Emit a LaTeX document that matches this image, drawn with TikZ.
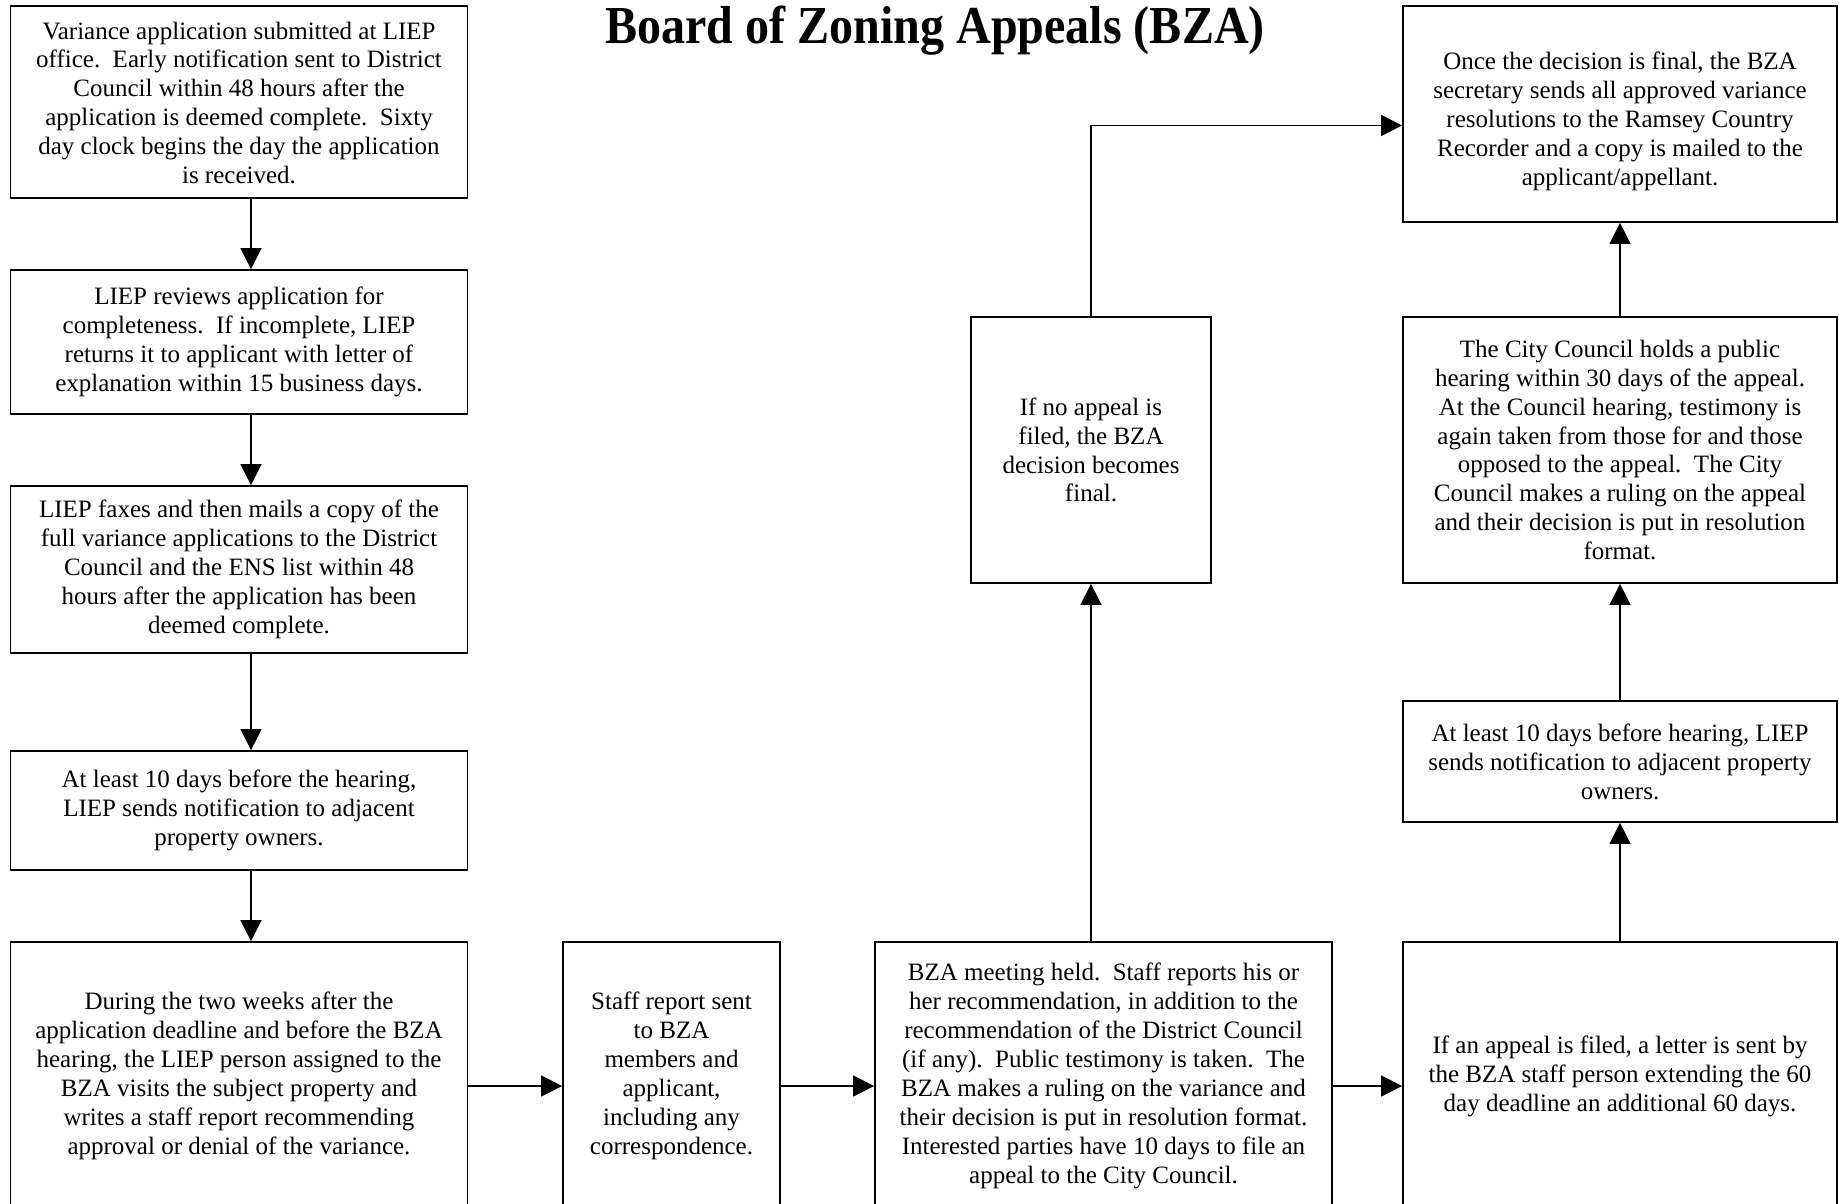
\documentclass[tikz,border=0pt]{standalone}
\usepackage{fontspec}
\setmainfont{Liberation Serif}
\usetikzlibrary{arrows.meta}
\begin{document}
\begin{tikzpicture}[x=0.5pt,y=-0.5pt,
  box/.style={draw=black,line width=0.9pt,inner sep=0pt,align=center,
    font=\fontsize{12.5}{14.45}\selectfont},
  arr/.style={line width=0.8pt,-{Triangle[length=10.5pt,width=10.5pt]}},
  ln/.style={line width=0.8pt}]
\useasboundingbox (0,0) rectangle (1839,1203);
\clip (0,0) rectangle (1839,1203);
\node[font=\bfseries\fontsize{26.7}{30}\selectfont] (title) at (935,31)
  {\scalebox{0.9}[1]{Board of Zoning Appeals (BZA)}};
% left column
\node[box,minimum width=228.5pt,minimum height=96pt] (b1) at (239,102)
  {\raisebox{-1.75pt}[\height][\depth]{\begin{tabular}{@{}c@{}}Variance application submitted at LIEP\\office.\ \ Early notification sent to District\\Council within 48 hours after the\\application is deemed complete.\ \ Sixty\\day clock begins the day the application\\is received.\end{tabular}}};
\node[box,minimum width=228.5pt,minimum height=72pt] (b2) at (239,342)
  {LIEP reviews application for\\completeness.\ \ If incomplete, LIEP\\returns it to applicant with letter of\\explanation within 15 business days.};
\node[box,minimum width=228.5pt,minimum height=83.5pt] (b3) at (239,569.5)
  {LIEP faxes and then mails a copy of the\\full variance applications to the District\\Council and the ENS list within 48\\hours after the application has been\\deemed complete.};
\node[box,minimum width=228.5pt,minimum height=59.5pt] (b4) at (239,810.5)
  {At least 10 days before the hearing,\\LIEP sends notification to adjacent\\property owners.};
\node[box,minimum width=228.5pt,minimum height=134pt] (b5) at (239,1076)
  {During the two weeks after the\\application deadline and before the BZA\\hearing, the LIEP person assigned to the\\BZA visits the subject property and\\writes a staff report recommending\\approval or denial of the variance.};
% bottom row
\node[box,minimum width=108.5pt,minimum height=134pt] (b6) at (671.5,1076)
  {Staff report sent\\to BZA\\members and\\applicant,\\including any\\correspondence.};
\node[box,minimum width=228.5pt,minimum height=134pt] (b7) at (1103.5,1076)
  {BZA meeting held.\ \ Staff reports his or\\her recommendation, in addition to the\\recommendation of the District Council\\(if any).\ \ Public testimony is taken.\ \ The\\BZA makes a ruling on the variance and\\their decision is put in resolution format.\\Interested parties have 10 days to file an\\appeal to the City Council.};
\node[box,minimum width=217pt,minimum height=134pt] (b8) at (1620,1076)
  {If an appeal is filed, a letter is sent by\\the BZA staff person extending the 60\\day deadline an additional 60 days.};
% right column
\node[box,minimum width=217pt,minimum height=60.5pt] (b9) at (1620,761.5)
  {At least 10 days before hearing, LIEP\\sends notification to adjacent property\\owners.};
\node[box,minimum width=217pt,minimum height=133pt] (b10) at (1620,450)
  {The City Council holds a public\\hearing within 30 days of the appeal.\\At the Council hearing, testimony is\\again taken from those for and those\\opposed to the appeal.\ \ The City\\Council makes a ruling on the appeal\\and their decision is put in resolution\\format.};
\node[box,minimum width=217pt,minimum height=108pt] (b11) at (1620,114)
  {\raisebox{-4pt}[\height][\depth]{\begin{tabular}{@{}c@{}}Once the decision is final, the BZA\\secretary sends all approved variance\\resolutions to the Ramsey Country\\Recorder and a copy is mailed to the\\applicant/appellant.\end{tabular}}};
% middle
\node[box,minimum width=120pt,minimum height=133pt] (b12) at (1091,450)
  {If no appeal is\\filed, the BZA\\decision becomes\\final.};
% connectors
\draw[arr] ([xshift=6pt]b1.south) -- ([xshift=6pt]b2.north);
\draw[arr] ([xshift=6pt]b2.south) -- ([xshift=6pt]b3.north);
\draw[arr] ([xshift=6pt]b3.south) -- ([xshift=6pt]b4.north);
\draw[arr] ([xshift=6pt]b4.south) -- ([xshift=6pt]b5.north);
\draw[arr] ([yshift=-5pt]b5.east) -- ([yshift=-5pt]b6.west);
\draw[arr] ([yshift=-5pt]b6.east) -- ([yshift=-5pt]b7.west);
\draw[arr] ([yshift=-5pt]b7.east) -- ([yshift=-5pt]b8.west);
\draw[arr] (b12.south |- b7.north) -- (b12.south);
\draw[arr] (b12.north) |- ([yshift=-5.75pt]b11.west);
\draw[arr] (b8.north) -- (b9.south);
\draw[arr] (b9.north) -- (b10.south);
\draw[arr] (b10.north) -- (b11.south);
\end{tikzpicture}
\end{document}
